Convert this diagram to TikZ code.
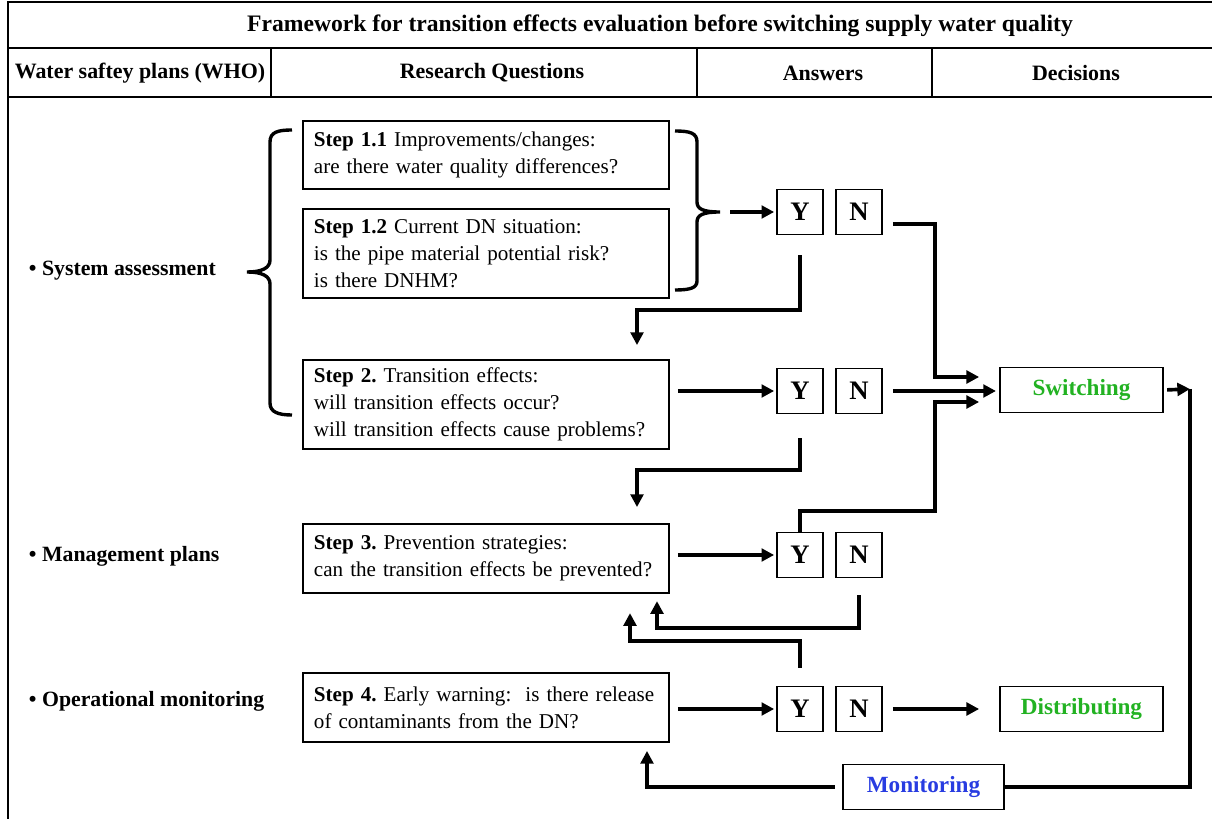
\documentclass[tikz,border=0pt]{standalone}
\usepackage{fontspec}
\setmainfont{Liberation Serif}
\usetikzlibrary{arrows.meta}
\definecolor{decgreen}{RGB}{34,178,34}
\definecolor{monblue}{RGB}{40,60,225}
\tikzset{
  frame/.style={line width=1.1pt},
  title/.style={font=\fontsize{16.8}{18}\selectfont\bfseries},
  hdr/.style={font=\fontsize{15.6}{18}\selectfont\bfseries},
  plan/.style={anchor=west,font=\fontsize{15.5}{18}\selectfont\bfseries},
  stepbox/.style={draw,line width=1.2pt,text width=8.6cm,inner xsep=0.275cm,align=left,font=\fontsize{15}{19}\selectfont},
  ynbox/.style={draw,line width=1.2pt,minimum width=1.15cm,minimum height=1.13cm,inner sep=0pt,font=\fontsize{19}{19}\selectfont\bfseries},
  decbox/.style={draw,line width=1.2pt,minimum width=4.075cm,minimum height=1.125cm,font=\fontsize{16.5}{18}\selectfont\bfseries},
  flow/.style={line width=2.6pt,-{Triangle[length=9pt,width=9pt]}},
  plain/.style={line width=2.6pt},
  bracket/.style={line width=2.4pt}
}
\begin{document}
\begin{tikzpicture}[x=0.025cm,y=-0.025cm]
  \frenchspacing
  \useasboundingbox (0,0) rectangle (1212,819);
  % table head
  \draw[frame] (8,819) -- (8,2) -- (1212,2);
  \draw[frame] (8,48) -- (1212,48) (8,97) -- (1212,97);
  \draw[frame] (271,48) -- (271,97) (697,48) -- (697,97) (932,48) -- (932,97);
  \node[title] (head) at (660,26) {Framework for transition effects evaluation before switching supply water quality};
  \node[hdr] (who) at (140,73) {Water saftey plans (WHO)};
  \node[hdr] (rq) at (492,73) {Research Questions};
  \node[hdr] (ans) at (823,73) {Answers};
  \node[hdr] (dec) at (1076,73) {Decisions};

  % plans
  \node[plan] (sys) at (24,271) {• System assessment};
  \node[plan] (man) at (24,556) {• Management plans};
  \node[plan] (ops) at (24,701) {• Operational monitoring};

  % questions
  \node[stepbox,minimum height=1.7cm] (s11) at (486,155)
    {\textbf{Step 1.1} Improvements/changes:\\are there water quality differences?};
  \node[stepbox,minimum height=2.23cm] (s12) at (486,253.5)
    {\textbf{Step 1.2} Current DN situation:\\is the pipe material potential risk?\\is there DNHM?};
  \node[stepbox,minimum height=2.23cm] (s2) at (486,404.5)
    {\textbf{Step 2.} Transition effects:\\will transition effects occur?\\will transition effects cause problems?};
  \node[stepbox,minimum height=1.73cm] (s3) at (486,558.5)
    {\textbf{Step 3.} Prevention strategies:\\can the transition effects be prevented?};
  \node[stepbox,minimum height=1.73cm] (s4) at (486,707.5)
    {\textbf{Step 4.} Early warning:\ \ is there release\\of contaminants from the DN?};

  % answers
  \node[ynbox] (y1) at (800,212) {Y};
  \node[ynbox] (n1) at (859,212) {N};
  \node[ynbox] (y2) at (800,391) {Y};
  \node[ynbox] (n2) at (859,391) {N};
  \node[ynbox] (y3) at (800,555) {Y};
  \node[ynbox] (n3) at (859,555) {N};
  \node[ynbox] (y4) at (800,709) {Y};
  \node[ynbox] (n4) at (859,709) {N};

  % decisions
  \node[decbox,text=decgreen] (sw) at (1081.5,390) {Switching};
  \node[decbox,text=decgreen] (dist) at (1081.5,709) {Distributing};
  \node[decbox,text=monblue,minimum width=4.025cm] (mon) at (923.5,787) {Monitoring};

  % braces
  \draw[bracket] (292,130) .. controls (278,130) and (270,132) .. (270,142) -- (270,260)
    .. controls (270,268) and (262,272) .. (247,272) .. controls (262,272) and (270,276) .. (270,284)
    -- (270,403) .. controls (270,412) and (278,415) .. (292,415);
  \draw[bracket] (675,131) .. controls (690,131) and (697,133) .. (697,142) -- (697,202)
    .. controls (697,209) and (703,212) .. (720,212) .. controls (703,212) and (697,215) .. (697,222)
    -- (697,281) .. controls (697,288) and (690,290) .. (675,290);
  \coordinate (tip1) at (720,212);
  \coordinate (back) at (1190,389);

  % connectors
  \draw[flow,shorten <=0.25cm,shorten >=0.05cm] (tip1) -- (y1.west);
  \draw[flow,shorten <=0.25cm,shorten >=0.5cm] (n1.east |- 0,224) -| (935,377) -- (sw.west |- 0,377);
  \draw[flow,shorten <=0.5cm,shorten >=0.35cm] (y1.south) |- (637,310) -- (s2.north -| 637,0);
  \draw[flow,shorten <=0.2cm,shorten >=0.05cm] (s2.east |- y2.west) -- (y2.west);
  \draw[flow,shorten <=0.25cm,shorten >=0.08cm] (n2.east) -- (sw.west |- n2.east);
  \draw[flow,shorten <=0.6cm,shorten >=0.4cm] (y2.south) |- (637,470) -- (s3.north -| 637,0);
  \draw[flow,shorten >=0.5cm] (y3.north) |- (935,511) |- (sw.west |- 0,402);
  \draw[flow,shorten <=0.2cm,shorten >=0.05cm] (s3.east |- y3.west) -- (y3.west);
  \draw[flow,shorten <=0.42cm,shorten >=0.18cm] (n3.south) |- (657,628) -- (s3.south -| 657,0);
  \draw[flow,shorten <=0.45cm,shorten >=0.48cm] (y4.north) |- (630,641) -- (s3.south -| 630,0);
  \draw[flow,shorten <=0.2cm,shorten >=0.05cm] (s4.east |- y4.west) -- (y4.west);
  \draw[flow,shorten <=0.25cm,shorten >=0.5cm] (n4.east) -- (dist.west);
  \draw[flow,shorten <=0.08cm] (sw.east) -- (back);
  \draw[plain] (back) |- (mon.east);
  \draw[flow,shorten <=0.18cm,shorten >=0.2cm] (mon.west) -| (s4.south -| 647,0);
\end{tikzpicture}
\end{document}
